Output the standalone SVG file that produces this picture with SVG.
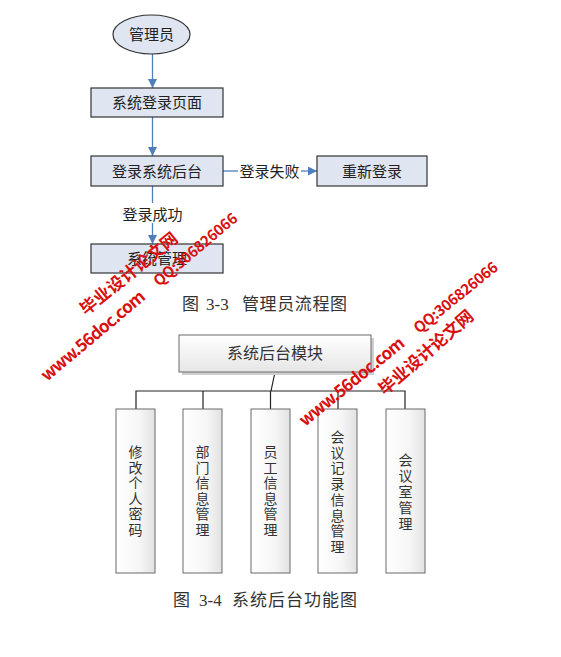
<svg xmlns="http://www.w3.org/2000/svg" width="561" height="657" viewBox="0 0 561 657">
<style>
.t{font-family:"Noto Sans CJK SC","Liberation Sans",sans-serif;font-size:15px;fill:#222}
.cap{font-family:"Liberation Serif","Noto Sans CJK SC",serif;font-size:17px;fill:#333}
.capc{font-family:"Noto Sans CJK SC",sans-serif;font-size:17px;fill:#333}
.fl{fill:none;stroke:#4f7fbb;stroke-width:1.3}
.bx{fill:#dfe6f1;stroke:#333;stroke-width:1.2}
.vb{fill:url(#gv);stroke:#6a6a6a;stroke-width:1}
.tr{fill:none;stroke:#222;stroke-width:1.2}
.wm{font-family:"Noto Sans CJK SC","Liberation Sans",sans-serif;font-weight:bold;fill:#d81010}
.vt{font-family:"Noto Sans CJK SC",sans-serif;font-size:14px;fill:#333}
</style>
<defs>
<marker id="ar" viewBox="0 0 10 10" refX="10" refY="5" markerWidth="9" markerHeight="9" markerUnits="userSpaceOnUse" orient="auto">
<path d="M0,0 L10,5 L0,10 z" fill="#4f7fbb"/>
</marker>
<linearGradient id="gv" x1="0" y1="0" x2="1" y2="0">
<stop offset="0" stop-color="#ffffff"/><stop offset="0.6" stop-color="#f6f6f6"/><stop offset="1" stop-color="#e2e2e2"/>
</linearGradient>
<linearGradient id="gh" x1="0" y1="0" x2="0" y2="1">
<stop offset="0" stop-color="#ffffff"/><stop offset="1" stop-color="#e6e6e6"/>
</linearGradient>
</defs>
<rect width="561" height="657" fill="#fff"/>

<g id="connectors">
<line class="fl" x1="152.5" y1="54" x2="152.5" y2="88" marker-end="url(#ar)"/>
<line class="fl" x1="152.5" y1="117" x2="152.5" y2="156" marker-end="url(#ar)"/>
<line class="fl" x1="152.5" y1="186" x2="152.5" y2="203"/>
<line class="fl" x1="152.5" y1="223" x2="152.5" y2="244" marker-end="url(#ar)"/>
<line class="fl" x1="223" y1="171" x2="238" y2="171"/>
<line class="fl" x1="301" y1="171" x2="317" y2="171" marker-end="url(#ar)"/>
<text class="t" x="269.5" y="176.5" text-anchor="middle">登录失败</text>
<text class="t" x="152.5" y="219.5" text-anchor="middle">登录成功</text>
<path class="tr" d="M275,372 L271,391 M136,409 V391 H405 V409 M203,391 V409 M270.5,391 V409 M338,391 V409"/>
</g>

<g id="admin">
<ellipse cx="151.5" cy="34.5" rx="38.5" ry="19.5" class="bx"/>
<text class="t" x="151.5" y="40" text-anchor="middle">管理员</text>
</g>
<g id="loginpage">
<rect x="91" y="88" width="132" height="29" class="bx"/>
<text class="t" x="157" y="108" text-anchor="middle">系统登录页面</text>
</g>
<g id="backend">
<rect x="91" y="156" width="132" height="30" class="bx"/>
<text class="t" x="157" y="176.5" text-anchor="middle">登录系统后台</text>
</g>
<g id="relogin">
<rect x="317" y="156" width="110" height="30" class="bx"/>
<text class="t" x="372" y="176.5" text-anchor="middle">重新登录</text>
</g>
<g id="sysmgr">
<rect x="91" y="244" width="132" height="29" class="bx"/>
<text class="t" x="157" y="264" text-anchor="middle">系统管理</text>
</g>
<g id="cap1">
<text class="capc" x="182" y="310">图</text>
<text class="cap" x="206" y="310">3-3</text>
<text class="capc" x="242" y="310" textLength="105">管理员流程图</text>
</g>

<g id="module">
<rect x="182" y="338" width="192" height="37" fill="#cfcfcf"/>
<rect x="179" y="335" width="192" height="37" fill="url(#gh)" stroke="#6a6a6a" stroke-width="1"/>
<text x="275" y="359" text-anchor="middle" style="font-family:'Noto Sans CJK SC',sans-serif;font-size:16px;fill:#333">系统后台模块</text>
</g>

<g id="m1">
<rect x="116" y="409" width="39" height="164" class="vb"/>
<text class="vt" text-anchor="middle"><tspan x="135.5" y="457">修</tspan><tspan x="135.5" y="472.6">改</tspan><tspan x="135.5" y="488.2">个</tspan><tspan x="135.5" y="503.8">人</tspan><tspan x="135.5" y="519.4">密</tspan><tspan x="135.5" y="535">码</tspan></text>
</g>
<g id="m2">
<rect x="183" y="409" width="39" height="164" class="vb"/>
<text class="vt" text-anchor="middle"><tspan x="202.5" y="457">部</tspan><tspan x="202.5" y="472.6">门</tspan><tspan x="202.5" y="488.2">信</tspan><tspan x="202.5" y="503.8">息</tspan><tspan x="202.5" y="519.4">管</tspan><tspan x="202.5" y="535">理</tspan></text>
</g>
<g id="m3">
<rect x="251" y="409" width="39" height="164" class="vb"/>
<text class="vt" text-anchor="middle"><tspan x="270.5" y="457">员</tspan><tspan x="270.5" y="472.6">工</tspan><tspan x="270.5" y="488.2">信</tspan><tspan x="270.5" y="503.8">息</tspan><tspan x="270.5" y="519.4">管</tspan><tspan x="270.5" y="535">理</tspan></text>
</g>
<g id="m4">
<rect x="318" y="409" width="39" height="164" class="vb"/>
<text class="vt" text-anchor="middle"><tspan x="337.5" y="442">会</tspan><tspan x="337.5" y="457.7">议</tspan><tspan x="337.5" y="473.4">记</tspan><tspan x="337.5" y="489.1">录</tspan><tspan x="337.5" y="504.8">信</tspan><tspan x="337.5" y="520.5">息</tspan><tspan x="337.5" y="536.2">管</tspan><tspan x="337.5" y="551.9">理</tspan></text>
</g>
<g id="m5">
<rect x="386" y="409" width="39" height="164" class="vb"/>
<text class="vt" text-anchor="middle"><tspan x="405.5" y="465">会</tspan><tspan x="405.5" y="481">议</tspan><tspan x="405.5" y="497">室</tspan><tspan x="405.5" y="513">管</tspan><tspan x="405.5" y="529">理</tspan></text>
</g>
<g id="cap2">
<text class="capc" x="173" y="606">图</text>
<text class="cap" x="199" y="606">3-4</text>
<text class="capc" x="232" y="606" textLength="125">系统后台功能图</text>
</g>

<g id="watermarks">
<text class="wm" transform="translate(86,316) rotate(-39)" font-size="17" textLength="120">毕业设计论文网</text>
<text class="wm" transform="translate(47,382) rotate(-40)" font-size="17" textLength="130">www.56doc.com</text>
<text class="wm" transform="translate(159,287) rotate(-40)" font-size="15" textLength="104">QQ:306826066</text>
<text class="wm" transform="translate(305,427) rotate(-39)" font-size="17" textLength="130">www.56doc.com</text>
<text class="wm" transform="translate(385,396) rotate(-41)" font-size="17" textLength="119">毕业设计论文网</text>
<text class="wm" transform="translate(419,334) rotate(-39)" font-size="15" textLength="103">QQ:306826066</text>
</g>
</svg>
